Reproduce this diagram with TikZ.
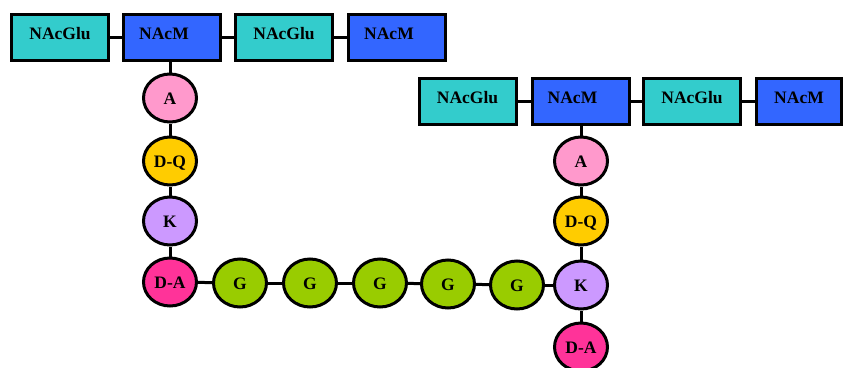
\documentclass[tikz,border=0pt]{standalone}
\usepackage{fontspec}
\setmainfont{Liberation Serif}
\usetikzlibrary{shapes.geometric}
\definecolor{cteal}{HTML}{33CCCC}
\definecolor{cblue}{HTML}{3366FF}
\definecolor{cpink}{HTML}{FF99CC}
\definecolor{cgold}{HTML}{FFCC00}
\definecolor{cviolet}{HTML}{CC99FF}
\definecolor{cmag}{HTML}{FF3399}
\definecolor{cgreen}{HTML}{99CC00}
\tikzset{
  sugar/.style={draw=black, line width=3pt, rectangle, minimum width=97pt, minimum height=46pt,
    inner sep=0pt, text height=12pt, text depth=8pt, font=\fontsize{17.5}{17.5}\selectfont\bfseries},
  glu/.style={sugar, fill=cteal},
  mur/.style={sugar, fill=cblue},
  amino/.style={draw=black, line width=3pt, ellipse, minimum width=53pt, minimum height=48pt,
    inner sep=0pt, text height=12pt, text depth=0pt, font=\fontsize{17.5}{17.5}\selectfont\bfseries},
  ala/.style={amino, fill=cpink},
  dq/.style={amino, fill=cgold},
  lys/.style={amino, fill=cviolet},
  da/.style={amino, fill=cmag},
  gly/.style={amino, fill=cgreen},
  conn/.style={draw=black, line width=3pt}
}
\newcommand{\murtext}{NAcM\kern16pt}
\begin{document}
\begin{tikzpicture}[x=1pt,y=-1pt]
\useasboundingbox (0,0) rectangle (845,367);
% top glycan strand
\node[glu] (t1) at (60,37.5) {NAcGlu};
\node[mur] (t2) at (172,37.5) {\murtext};
\node[glu] (t3) at (284,37.5) {NAcGlu};
\node[mur] (t4) at (397,37.5) {\murtext};
% second glycan strand
\node[glu] (s1) at (467.5,101.5) {NAcGlu};
\node[mur] (s2) at (580.5,101.5) {\murtext};
\node[glu] (s3) at (692,101.5) {NAcGlu};
\node[mur, minimum width=85pt] (s4) at (799,101.5) {NAcM};
% left peptide
\node[ala] (la) at (170,98) {A};
\node[dq] (lq) at (170,161) {D-Q};
\node[lys] (lk) at (170,221) {K};
\node[da] (ld) at (170,282) {D-A};
% glycine bridge
\node[gly] (g1) at (240,283) {G};
\node[gly] (g2) at (310,283) {G};
\node[gly] (g3) at (380,283) {G};
\node[gly] (g4) at (448,284) {G};
\node[gly] (g5) at (517,285) {G};
% right peptide
\node[ala] (ra) at (581,161) {A};
\node[dq] (rq) at (581,221) {D-Q};
\node[lys] (rk) at (581,285) {K};
\node[da] (rd) at (581,347) {D-A};
% connectors
\draw[conn] (t1) -- (t2);
\draw[conn] (t2) -- (t3);
\draw[conn] (t3) -- (t4);
\draw[conn] (s1) -- (s2);
\draw[conn] (s2) -- (s3);
\draw[conn] (s3) -- (s4);
\draw[conn] (t2.south -| la) -- (la);
\draw[conn] (la) -- (lq);
\draw[conn] (lq) -- (lk);
\draw[conn] (lk) -- (ld);
\draw[conn] (ld) -- (g1);
\draw[conn] (g1) -- (g2);
\draw[conn] (g2) -- (g3);
\draw[conn] (g3) -- (g4);
\draw[conn] (g4) -- (g5);
\draw[conn] (g5) -- (rk);
\draw[conn] (s2.south -| ra) -- (ra);
\draw[conn] (ra) -- (rq);
\draw[conn] (rq) -- (rk);
\draw[conn] (rk) -- (rd);
\end{tikzpicture}
\end{document}
